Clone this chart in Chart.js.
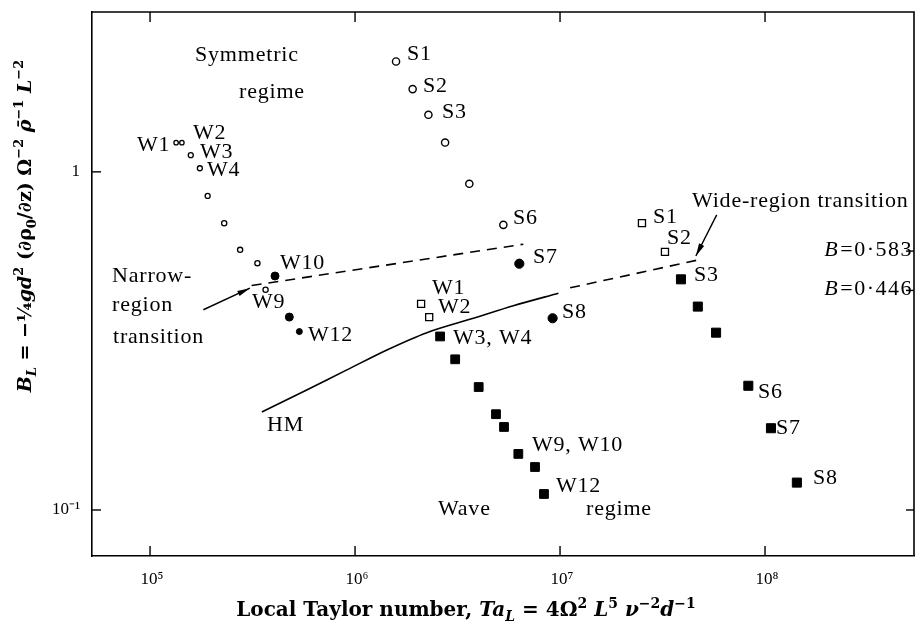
<!DOCTYPE html>
<html>
<head>
<meta charset="utf-8">
<script src="https://cdn.jsdelivr.net/npm/chart.js@4.4.0/dist/chart.umd.min.js"></script>
<style>
  html, body { margin: 0; padding: 0; background: #fff; }
  #wrap { width: 916px; height: 625px; }
</style>
</head>
<body>
<div id="wrap"><canvas id="myChart" width="916" height="625"></canvas></div>
<script>
// axis ticks
const xTicks = [1e5, 1e6, 1e7, 1e8];
const xTickLabels = ['10⁵', '10⁶', '10⁷', '10⁸'];
const yTicks = [0.1, 1];
const yTickLabels = ['10⁻¹', '1'];
const rightTicks = [0.583, 0.446];
const rightTickLabels = ['0·583', '0·446'];

// circles = narrow region runs
const narrowW_openX = [1.34e5, 1.43e5, 1.58e5, 1.75e5, 1.91e5, 2.30e5, 2.75e5, 3.34e5, 3.66e5];
const narrowW_openY = [1.22, 1.22, 1.12, 1.025, 0.849, 0.705, 0.588, 0.537, 0.448];
const narrowW_fullX = [4.07e5, 4.78e5, 5.35e5];
const narrowW_fullY = [0.492, 0.372, 0.337];
const narrowS_openX = [1.585e6, 1.91e6, 2.28e6, 2.75e6, 3.61e6, 5.29e6];
const narrowS_openY = [2.12, 1.757, 1.475, 1.221, 0.922, 0.697];
const narrowS_fullX = [6.33e6, 9.20e6];
const narrowS_fullY = [0.535, 0.369];

// squares = wide region runs
const wideW_openX = [2.10e6, 2.30e6];
const wideW_openY = [0.407, 0.372];
const wideW_fullX = [2.60e6, 3.08e6, 4.01e6, 4.87e6, 5.33e6, 6.26e6, 7.55e6, 8.35e6];
const wideW_fullY = [0.326, 0.279, 0.231, 0.192, 0.176, 0.1465, 0.134, 0.1115];
const wideS_openX = [2.51e7, 3.25e7];
const wideS_openY = [0.705, 0.580];
const wideS_fullX = [3.89e7, 4.70e7, 5.77e7, 8.29e7, 1.069e8, 1.43e8];
const wideS_fullY = [0.481, 0.3995, 0.3345, 0.233, 0.1745, 0.1205];

// transition lines
const hmX = [3.51e5, 5.81e5, 9.12e5, 1.43e6, 2.24e6, 3.78e6, 5.92e6, 9.82e6];
const hmY = [0.195, 0.2265, 0.2596, 0.2974, 0.3346, 0.369, 0.4018, 0.4375];
const wideDashX = [1.12e7, 4.73e7];
const wideDashY = [0.454, 0.549];
const narrowDashX = [3.13e5, 6.62e6];
const narrowDashY = [0.461, 0.611];

// arrows (tail -> head, data units)
const arrowFromX = [1.82e5, 5.81e7];
const arrowFromY = [0.391, 0.746];
const arrowToX = [3.07e5, 4.60e7];
const arrowToY = [0.453, 0.564];

function pts(xs, ys) {
    return xs.map((x, i) => ({ x: x, y: ys[i] }));
}

const SERIF = '"Liberation Serif", "Times New Roman", serif';
const noteFont = '22px ' + SERIF;

// text placed on the figure (pixels, left edge / middle)
const notes = [
    ['Symmetric', 195, 55], ['regime', 239, 92],
    ['W1', 137, 145], ['W2', 193, 133], ['W3', 200, 152], ['W4', 207, 170],
    ['S1', 407, 54], ['S2', 423, 86], ['S3', 442, 112],
    ['W10', 280, 263], ['W9', 252, 302], ['W12', 308, 335],
    ['Narrow-', 112, 276], ['region', 112, 305], ['transition', 113, 337],
    ['HM', 267, 425],
    ['S6', 513, 218], ['S7', 533, 257], ['S8', 562, 312],
    ['W1', 432, 288], ['W2', 438, 307], ['W3, W4', 453, 338],
    ['W9, W10', 532, 445], ['W12', 556, 486],
    ['Wave', 438, 509], ['regime', 586, 509],
    ['S1', 653, 217], ['S2', 667, 238], ['S3', 694, 275],
    ['Wide-region transition', 692, 201],
    ['S6', 758, 392], ['S7', 776, 428], ['S8', 813, 478]
];

function drawRich(ctx, segs, x, y, size, family) {
    // segs: [text, italic, 'sup'|'sub'|'']
    let total = 0;
    const parts = segs.map(s => {
        const sz = s[2] ? Math.round(size * 0.68) : size;
        const f = (s[1] ? 'italic ' : '') + 'bold ' + sz + 'px ' + family;
        ctx.font = f;
        const w = ctx.measureText(s[0]).width;
        total += w;
        return { t: s[0], f: f, w: w, pos: s[2] };
    });
    let cx = x - total / 2;
    ctx.textBaseline = 'alphabetic';
    ctx.textAlign = 'left';
    parts.forEach(p => {
        ctx.font = p.f;
        let dy = 0;
        if (p.pos === 'sup') dy = -size * 0.42;
        if (p.pos === 'sub') dy = size * 0.25;
        ctx.fillText(p.t, cx, y + dy);
        cx += p.w;
    });
}

const figurePlugin = {
    id: 'figure',
    afterDraw(chart) {
        const ctx = chart.ctx;
        const a = chart.chartArea;
        const xs = chart.scales.x, ys = chart.scales.y;
        ctx.save();
        ctx.strokeStyle = '#000';
        ctx.fillStyle = '#000';
        ctx.lineWidth = 1.6;
        // top and right frame
        ctx.beginPath();
        ctx.moveTo(a.left, a.top); ctx.lineTo(a.right, a.top); ctx.lineTo(a.right, a.bottom);
        ctx.stroke();
        // inward ticks + labels
        ctx.lineWidth = 1.4;
        ctx.font = '17px ' + SERIF;
        ctx.textBaseline = 'middle';
        xTicks.forEach((v, i) => {
            const px = xs.getPixelForValue(v);
            ctx.beginPath();
            ctx.moveTo(px, a.bottom); ctx.lineTo(px, a.bottom - 10);
            ctx.moveTo(px, a.top); ctx.lineTo(px, a.top + 10);
            ctx.stroke();
            ctx.textAlign = 'center';
            ctx.fillText(xTickLabels[i], px + 2, a.bottom + 24);
        });
        yTicks.forEach((v, i) => {
            const py = ys.getPixelForValue(v);
            ctx.beginPath();
            ctx.moveTo(a.left, py); ctx.lineTo(a.left + 9, py);
            ctx.stroke();
            ctx.textAlign = 'right';
            ctx.fillText(yTickLabels[i], a.left - 12, py);
        });
        [0.1].concat(rightTicks).forEach(v => {
            const py = ys.getPixelForValue(v);
            ctx.beginPath();
            ctx.moveTo(a.right, py); ctx.lineTo(a.right - 8, py);
            ctx.stroke();
        });
        // B values written inside the right axis
        ctx.textAlign = 'right';
        ctx.letterSpacing = '1.5px';
        rightTicks.forEach((v, i) => {
            const py = ys.getPixelForValue(v);
            ctx.font = noteFont;
            ctx.fillText('=' + rightTickLabels[i], a.right - 1, py - 1);
            const w = ctx.measureText('=' + rightTickLabels[i]).width;
            ctx.font = 'italic 22px ' + SERIF;
            ctx.fillText('B', a.right - 1 - w - 1, py - 1);
        });
        ctx.letterSpacing = '0px';
        // arrows
        ctx.lineWidth = 1.4;
        arrowFromX.forEach((fx, i) => {
            const x0 = xs.getPixelForValue(fx), y0 = ys.getPixelForValue(arrowFromY[i]);
            const x1 = xs.getPixelForValue(arrowToX[i]), y1 = ys.getPixelForValue(arrowToY[i]);
            const ang = Math.atan2(y1 - y0, x1 - x0);
            ctx.beginPath();
            ctx.moveTo(x0, y0); ctx.lineTo(x1, y1);
            ctx.stroke();
            ctx.beginPath();
            ctx.moveTo(x1, y1);
            ctx.lineTo(x1 - 13 * Math.cos(ang - 0.22), y1 - 13 * Math.sin(ang - 0.22));
            ctx.lineTo(x1 - 13 * Math.cos(ang + 0.22), y1 - 13 * Math.sin(ang + 0.22));
            ctx.closePath();
            ctx.fill();
        });
        // annotations
        ctx.font = noteFont;
        ctx.letterSpacing = '0.8px';
        ctx.textAlign = 'left';
        ctx.textBaseline = 'middle';
        notes.forEach(n => ctx.fillText(n[0], n[1], n[2]));
        ctx.letterSpacing = '0px';
        // axis titles
        drawRich(ctx, [
            ['Local Taylor number, ', false, ''], ['Ta', true, ''], ['L', true, 'sub'],
            [' = 4Ω', false, ''], ['2', false, 'sup'], [' L', true, ''], ['5', false, 'sup'],
            [' ν', true, ''], ['−2', false, 'sup'], ['d', true, ''], ['−1', false, 'sup']
        ], 466, 616, 20, '"DejaVu Serif", serif');
        ctx.save();
        ctx.translate(31, 226);
        ctx.rotate(-Math.PI / 2);
        drawRich(ctx, [
            ['B', true, ''], ['L', true, 'sub'], [' = −¼', false, ''], ['gd', true, ''], ['2', false, 'sup'],
            [' (∂ρ', false, ''], ['0', false, 'sub'], ['/∂z) Ω', false, ''], ['−2', false, 'sup'],
            [' ρ̄', true, ''], ['−1', false, 'sup'], [' L', true, ''], ['−2', false, 'sup']
        ], 0, 0, 19, '"DejaVu Serif", serif');
        ctx.restore();
        ctx.restore();
    }
};

const ctx = document.getElementById('myChart');

new Chart(ctx, {
    type: 'scatter',
    data: {
        datasets: [
            { data: pts(hmX, hmY), showLine: true, borderColor: '#000', borderWidth: 1.6, pointRadius: 0, tension: 0.3 },
            { data: pts(wideDashX, wideDashY), showLine: true, borderColor: '#000', borderWidth: 1.6, borderDash: [10, 7], pointRadius: 0 },
            { data: pts(narrowDashX, narrowDashY), showLine: true, borderColor: '#000', borderWidth: 1.6, borderDash: [10, 7], pointRadius: 0 },
            { data: pts(narrowW_openX, narrowW_openY), pointStyle: 'circle', pointRadius: [2.2, 2.2, 2.5, 2.5, 2.5, 2.6, 2.6, 2.6, 2.6], backgroundColor: '#fff', borderColor: '#000', borderWidth: 1.3 },
            { data: pts(narrowW_fullX, narrowW_fullY), pointStyle: 'circle', pointRadius: [4, 4, 3], backgroundColor: '#000', borderColor: '#000', borderWidth: 1 },
            { data: pts(narrowS_openX, narrowS_openY), pointStyle: 'circle', pointRadius: 3.6, backgroundColor: '#fff', borderColor: '#000', borderWidth: 1.4 },
            { data: pts(narrowS_fullX, narrowS_fullY), pointStyle: 'circle', pointRadius: 4.6, backgroundColor: '#000', borderColor: '#000', borderWidth: 1 },
            { data: pts(wideW_openX, wideW_openY), pointStyle: 'rect', pointRadius: 5, backgroundColor: '#fff', borderColor: '#000', borderWidth: 1.3 },
            { data: pts(wideW_fullX, wideW_fullY), pointStyle: 'rect', pointRadius: 6.2, backgroundColor: '#000', borderColor: '#000', borderWidth: 1 },
            { data: pts(wideS_openX, wideS_openY), pointStyle: 'rect', pointRadius: 5, backgroundColor: '#fff', borderColor: '#000', borderWidth: 1.3 },
            { data: pts(wideS_fullX, wideS_fullY), pointStyle: 'rect', pointRadius: 6.4, backgroundColor: '#000', borderColor: '#000', borderWidth: 1 }
        ]
    },
    options: {
        responsive: false,
        animation: false,
        events: [],
        layout: { autoPadding: false, padding: { top: 12, right: 2, left: 0, bottom: 0 } },
        plugins: { legend: { display: false }, tooltip: { enabled: false } },
        scales: {
            x: {
                type: 'logarithmic',
                min: 5.21e4,
                max: 5.33e8,
                grid: { display: false, drawTicks: false },
                border: { display: true, color: '#000', width: 1.6 },
                afterBuildTicks: s => { s.ticks = xTicks.map(v => ({ value: v })); },
                afterFit: s => { s.height = 69; },
                ticks: { display: false }
            },
            y: {
                type: 'logarithmic',
                min: 0.0731,
                max: 2.97,
                grid: { display: false, drawTicks: false },
                border: { display: true, color: '#000', width: 1.6 },
                afterBuildTicks: s => { s.ticks = yTicks.map(v => ({ value: v })); },
                afterFit: s => { s.width = 92; },
                ticks: { display: false }
            }
        }
    },
    plugins: [figurePlugin]
});
</script>
</body>
</html>
